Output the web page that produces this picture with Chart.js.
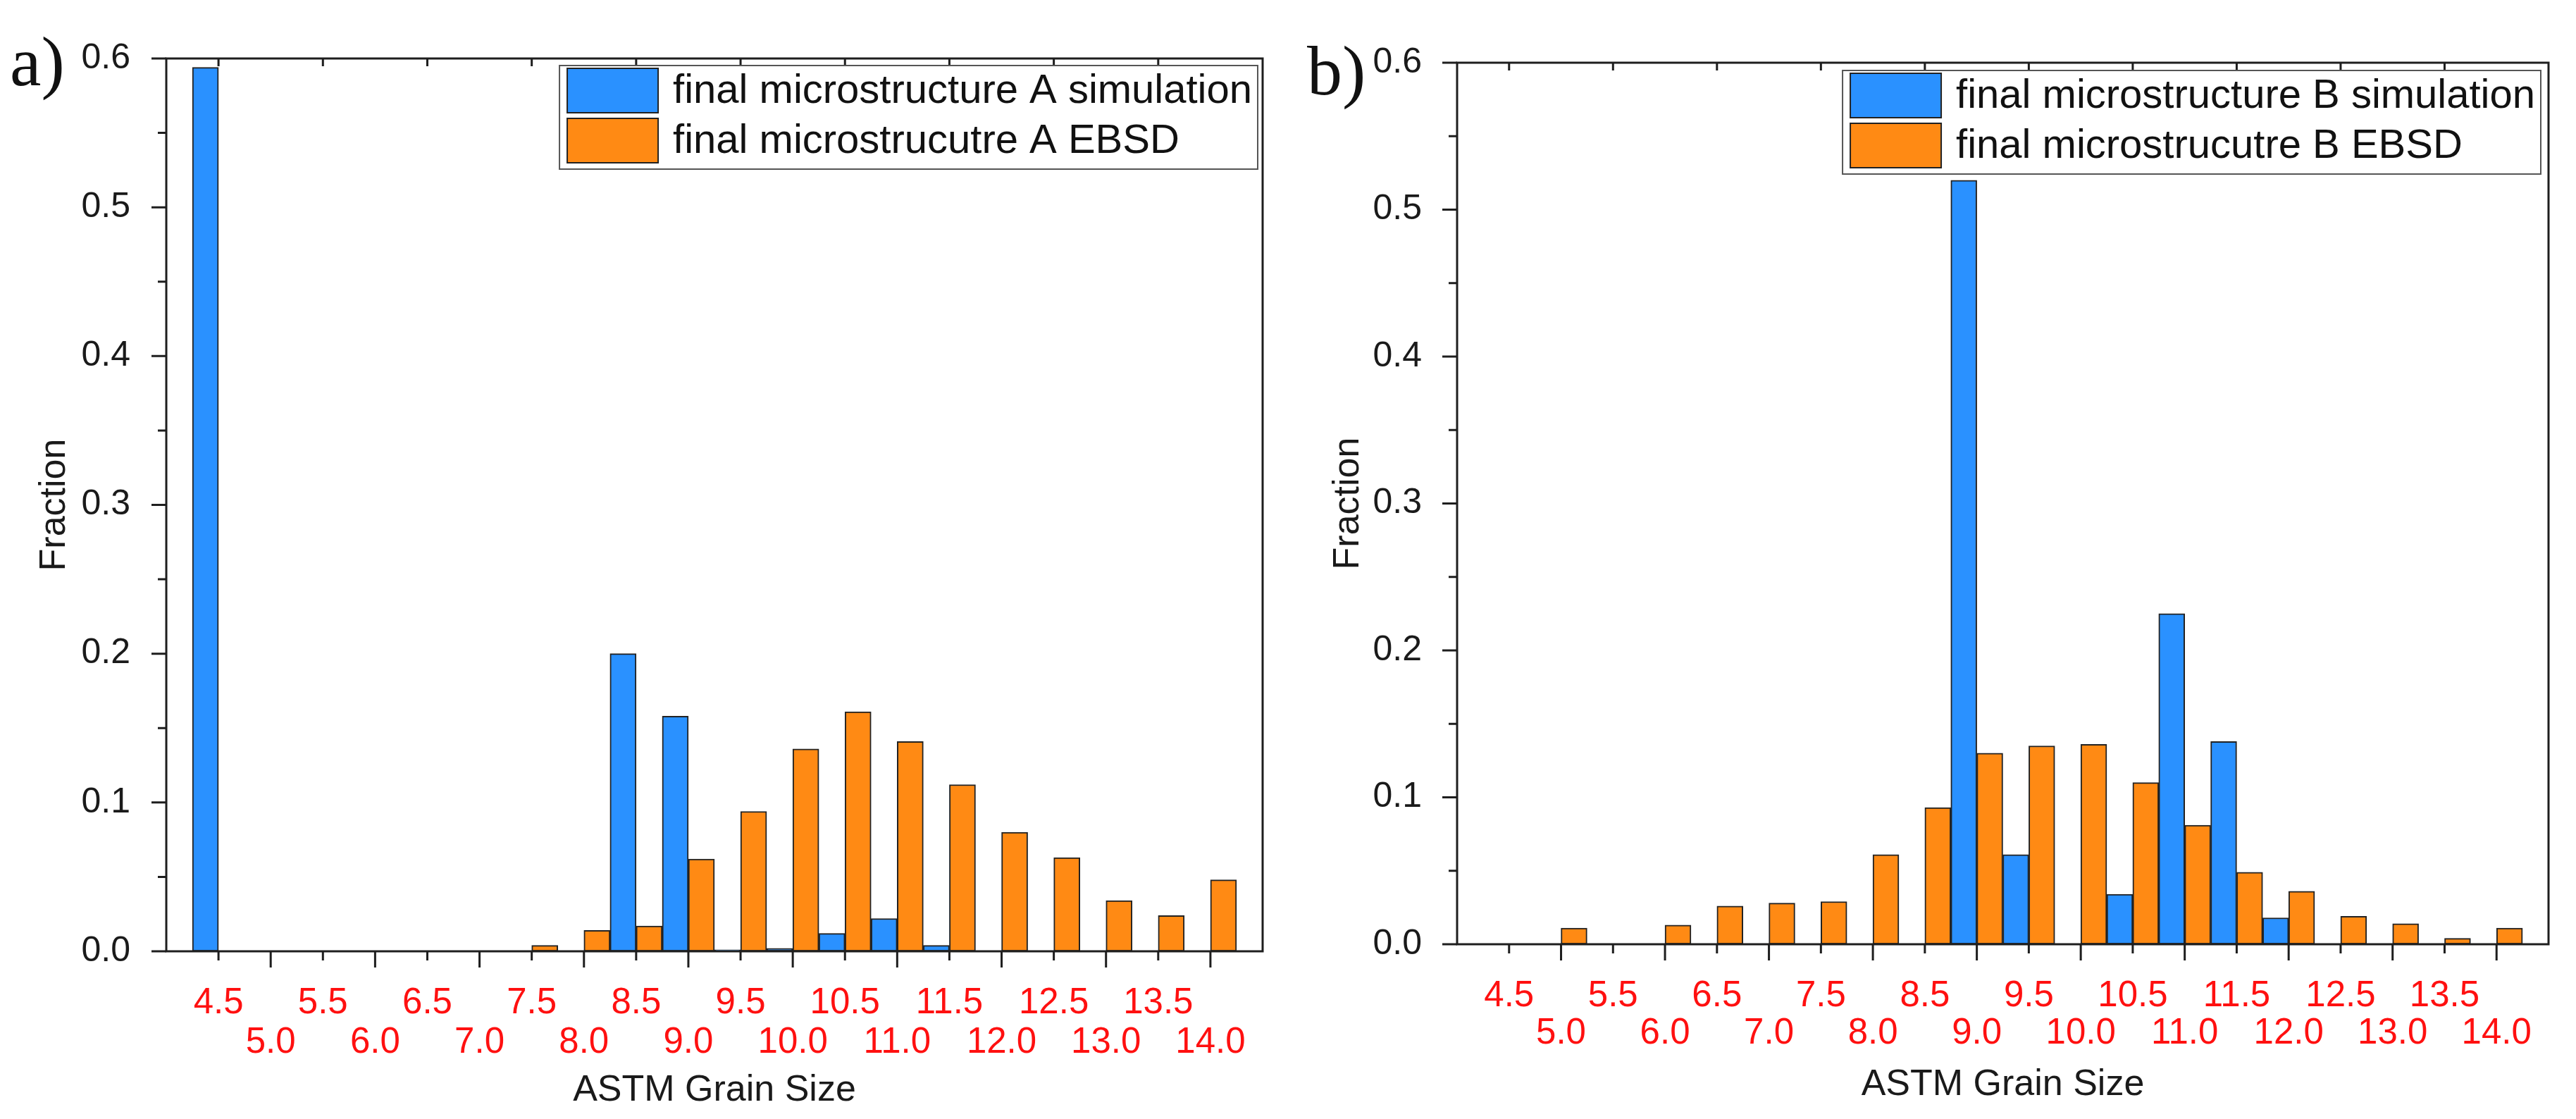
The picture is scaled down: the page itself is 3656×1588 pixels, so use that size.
<!DOCTYPE html>
<html>
<head>
<meta charset="utf-8">
<script src="https://cdn.jsdelivr.net/npm/chart.js@4.4.1/dist/chart.umd.min.js"></script>
<style>
  html, body { margin: 0; padding: 0; background: #fff; }
  body { width: 3656px; height: 1588px; position: relative; overflow: hidden; }
  .panel { position: absolute; top: 0; height: 1588px; }
  .tag { position: absolute; font-family: "Liberation Serif", "Times New Roman", serif; font-size: 100px; line-height: 100px; color: #111; }
</style>
</head>
<body>
<div class="panel" style="left:0;width:1830px"><canvas id="chartA"></canvas></div>
<div class="panel" style="left:1830px;width:1826px"><canvas id="chartB"></canvas></div>
<div class="tag" style="left:14px;top:38px">a)</div>
<div class="tag" style="left:1855px;top:51px">b)</div>
<script>
const grainSizes = [4.5, 5.0, 5.5, 6.0, 6.5, 7.0, 7.5, 8.0, 8.5, 9.0, 9.5, 10.0, 10.5, 11.0, 11.5, 12.0, 12.5, 13.0, 13.5, 14.0];
const tickLabels = ['4.5', '5.0', '5.5', '6.0', '6.5', '7.0', '7.5', '8.0', '8.5', '9.0', '9.5', '10.0', '10.5', '11.0', '11.5', '12.0', '12.5', '13.0', '13.5', '14.0'];

const simA  = [0.594, 0, 0, 0, 0, 0, 0, 0, 0.200, 0.158, 0.001, 0.002, 0.012, 0.022, 0.004, 0, 0, 0, 0, 0];
const ebsdA = [0, 0, 0, 0, 0, 0, 0.004, 0.014, 0.017, 0.062, 0.094, 0.136, 0.161, 0.141, 0.112, 0.080, 0.063, 0.034, 0.024, 0.048];
const simB  = [0, 0, 0, 0, 0, 0, 0, 0, 0, 0.520, 0.061, 0, 0.034, 0.225, 0.138, 0.018, 0, 0, 0, 0];
const ebsdB = [0, 0.011, 0, 0.013, 0.026, 0.028, 0.029, 0.061, 0.093, 0.130, 0.135, 0.136, 0.110, 0.081, 0.049, 0.036, 0.019, 0.014, 0.004, 0.011];

const namesA = ['final microstructure A simulation', 'final microstrucutre A EBSD'];
const namesB = ['final microstructure B simulation', 'final microstrucutre B EBSD'];

const BLUE = '#2a91ff';
const ORANGE = '#ff8a14';
const SANS = '"Liberation Sans", Arial, sans-serif';

// box frame plus Origin-style major/minor ticks
const frame = {
  id: 'frame',
  afterDatasetsDraw(chart) {
    const { ctx, chartArea: a, scales: { x, y } } = chart;
    ctx.save();
    ctx.strokeStyle = '#1e1e1e';
    ctx.lineWidth = 3;
    ctx.strokeRect(a.left, a.top, a.right - a.left, a.bottom - a.top);
    ctx.beginPath();
    grainSizes.forEach(v => {
      const px = x.getPixelForValue(v);
      const major = Number.isInteger(v);
      ctx.moveTo(px, a.bottom);
      ctx.lineTo(px, a.bottom + (major ? 23 : 13));
      if (!major) {
        ctx.moveTo(px, a.top);
        ctx.lineTo(px, a.top + 11);
      }
    });
    y.ticks.forEach((t, i) => {
      const py = y.getPixelForValue(t.value);
      ctx.moveTo(a.left, py);
      ctx.lineTo(a.left - 21, py);
      if (i > 0) {
        const pm = y.getPixelForValue((t.value + y.ticks[i - 1].value) / 2);
        ctx.moveTo(a.left, pm);
        ctx.lineTo(a.left - 12, pm);
      }
    });
    ctx.stroke();
    ctx.restore();
  }
};

function legendBox(insetRight, insetTop) {
  return {
    id: 'legendBox',
    afterDraw(chart) {
      const { ctx, chartArea: a } = chart;
      ctx.save();
      ctx.font = '58px ' + SANS;
      const labels = chart.data.datasets.map(d => d.label);
      const textW = Math.max(...labels.map(l => ctx.measureText(l).width));
      const w = 161 + textW + 8, h = 147;
      const left = a.right - insetRight - w, top = a.top + insetTop;
      ctx.fillStyle = '#fff';
      ctx.fillRect(left, top, w, h);
      ctx.strokeStyle = '#555';
      ctx.lineWidth = 2;
      ctx.strokeRect(left, top, w, h);
      chart.data.datasets.forEach((d, i) => {
        const sy = top + 4 + i * 71;
        ctx.fillStyle = d.backgroundColor;
        ctx.fillRect(left + 11, sy, 129, 63);
        ctx.strokeStyle = '#222';
        ctx.strokeRect(left + 11, sy, 129, 63);
        ctx.fillStyle = '#111';
        ctx.textBaseline = 'middle';
        ctx.fillText(d.label, left + 161, sy + 33);
      });
      ctx.restore();
    }
  };
}

function makePanel(id, sim, ebsd, names, g) {
  return new Chart(document.getElementById(id), {
    type: 'bar',
    data: {
      datasets: [
        { label: names[0], data: grainSizes.map((x, i) => ({ x, y: sim[i] })), backgroundColor: BLUE },
        { label: names[1], data: grainSizes.map((x, i) => ({ x, y: ebsd[i] })), backgroundColor: ORANGE }
      ]
    },
    options: {
      responsive: true,
      maintainAspectRatio: false,
      animation: false,
      layout: { padding: { top: g.top, right: g.right, bottom: 0, left: 0 } },
      plugins: { legend: { display: false }, tooltip: { enabled: false } },
      datasets: {
        bar: { categoryPercentage: 1, barPercentage: 1, borderWidth: 2, borderColor: '#222', borderSkipped: false }
      },
      scales: {
        x: {
          type: 'linear', min: 4, max: 14.5, offset: false,
          grid: { display: false }, border: { display: false },
          ticks: {
            stepSize: 0.5, maxTicksLimit: 100, autoSkip: false, maxRotation: 0, minRotation: 0,
            padding: g.xPad, color: '#ff1010',
            font: { family: SANS, size: 51, lineHeight: g.xLine + 'px' },
            callback: v => {
              const i = grainSizes.findIndex(s => Math.abs(s - v) < 1e-6);
              if (i < 0) return '';
              return i % 2 === 0 ? [tickLabels[i], ''] : ['', tickLabels[i]];
            }
          },
          title: {
            display: true, text: 'ASTM Grain Size', color: '#1a1a1a',
            font: { family: SANS, size: 52, lineHeight: 1.2 },
            padding: { top: 0, bottom: g.xTitlePad }
          },
          afterFit: s => { s.height = g.xHeight; }
        },
        y: {
          min: 0, max: 0.6,
          grid: { display: false }, border: { display: false },
          ticks: {
            stepSize: 0.1, padding: g.yPad, color: '#1a1a1a',
            font: { family: SANS, size: 50 },
            callback: v => v.toFixed(1)
          },
          title: {
            display: true, text: 'Fraction', color: '#1a1a1a',
            font: { family: SANS, size: 52, lineHeight: 1.2 },
            padding: { top: g.yTitlePad, bottom: 0 }
          },
          afterFit: s => { s.width = g.yWidth; }
        }
      }
    },
    plugins: [frame, legendBox(g.legRight, g.legTop)]
  });
}

makePanel('chartA', simA, ebsdA, namesA, {
  top: 83, right: 22, yWidth: 236, xHeight: 238, xPad: 38, xLine: 56,
  xTitlePad: 9, yPad: 43, yTitlePad: 46, legRight: 7, legTop: 10
});
makePanel('chartB', simB, ebsdB, namesB, {
  top: 89, right: 39, yWidth: 238, xHeight: 248, xPad: 39, xLine: 53,
  xTitlePad: 17, yPad: 42, yTitlePad: 52, legRight: 11, legTop: 11
});
</script>
</body>
</html>
